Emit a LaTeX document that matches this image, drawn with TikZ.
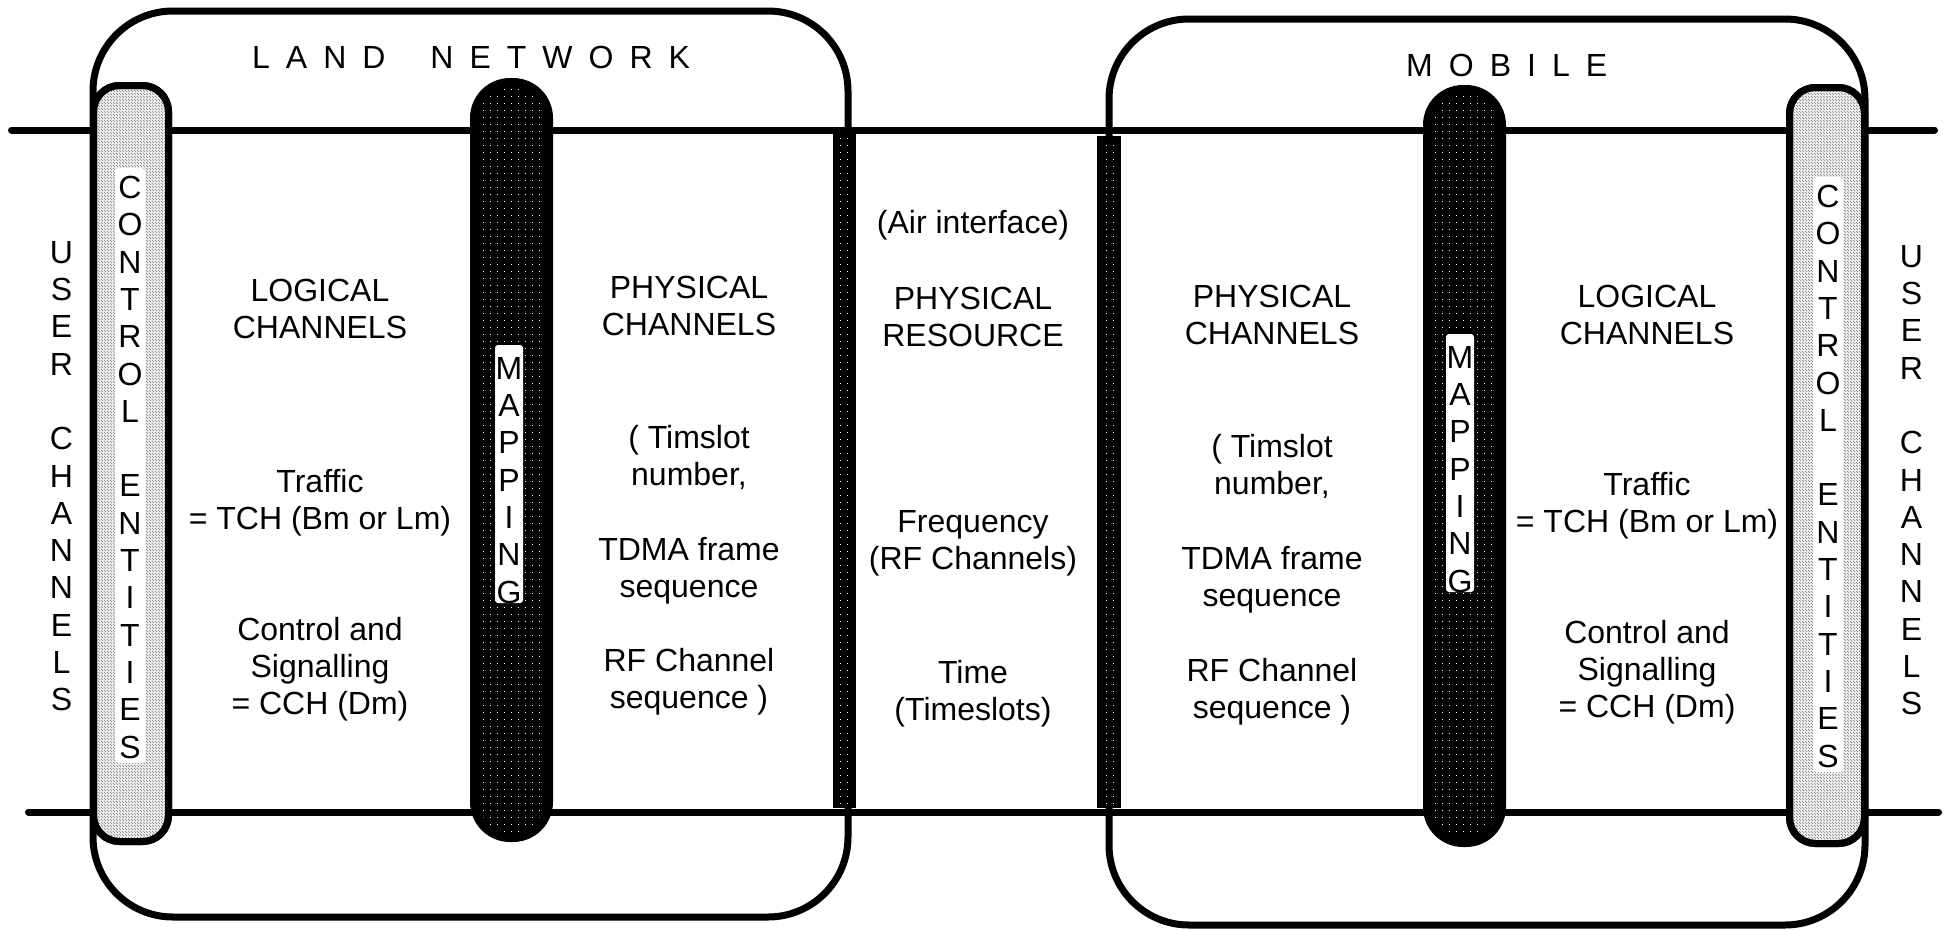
\documentclass[tikz,border=0pt]{standalone}
\usepackage{fontspec}
\setmainfont{Liberation Sans}
\usetikzlibrary{patterns.meta}
\tikzdeclarepattern{
  name=wdots,
  type=uncolored,
  bottom left={(-1pt,-1pt)},
  top right={(1pt,1pt)},
  tile size={(7pt,7pt)},
  code={\fill (-0.45pt,-0.45pt) rectangle (0.45pt,0.45pt);}
}
\tikzdeclarepattern{
  name=gtex,
  type=uncolored,
  bottom left={(-1pt,-1pt)},
  top right={(4pt,4pt)},
  tile size={(3pt,3pt)},
  code={\fill (0pt,0pt) rectangle (0.9pt,0.9pt); \fill (1.5pt,1.5pt) rectangle (2.4pt,2.4pt);}
}
\begin{document}
\begin{tikzpicture}[x=1pt,y=-1pt,
  netbox/.style={draw, line width=7pt, rounded corners=80pt},
  rail/.style={line width=7pt, line cap=round},
  ctrlpillar/.style={draw, line width=7pt, fill=black!8, rounded corners=26pt},
  gtexfill/.style={pattern=gtex, pattern color=black!45},
  mappillar/.style={fill=black, rounded corners=40pt},
  dotfill/.style={pattern=wdots, pattern color=white},
  stripbar/.style={fill=black},
  lblbg/.style={fill=white, rounded corners=3pt},
  txt/.style={font=\fontsize{32pt}{37.3pt}\selectfont, align=center, inner sep=0pt, anchor=north},
  title/.style={font=\fontsize{32pt}{37.3pt}\selectfont\addfontfeatures{LetterSpace=50}, inner sep=0pt, anchor=base west}
]
\useasboundingbox[fill=white] (0,0) rectangle (1946,929);

% network boxes
\draw[netbox] (93,11) rectangle (848,917);
\draw[netbox] (1109,19) rectangle (1865,925);

% rails
\draw[rail] (11.5,130) -- (1934.5,130);
\draw[rail] (28.5,812) -- (1938.5,812);

% air interface strips
\fill[stripbar] (833,130) rectangle (856,808);
\fill[dotfill] (837,134) rectangle (852,804);
\fill[stripbar] (1097,136) rectangle (1121,808);
\fill[dotfill] (1101,140) rectangle (1117,804);

% control entity pillars
\draw[ctrlpillar] (93.5,85.5) rectangle (168.5,841.5);
\fill[gtexfill, rounded corners=22pt] (97,89) rectangle (165,838);
\draw[ctrlpillar, fill=none] (93.5,85.5) rectangle (168.5,841.5);
\draw[ctrlpillar] (1789.5,87.5) rectangle (1864.5,843.5);
\fill[gtexfill, rounded corners=22pt] (1793,91) rectangle (1861,840);
\draw[ctrlpillar, fill=none] (1789.5,87.5) rectangle (1864.5,843.5);

% mapping pillars
\fill[mappillar] (470,78) rectangle (553,842);
\fill[dotfill, rounded corners=32pt] (479,87) rectangle (544,833);
\fill[mappillar] (1423,85) rectangle (1506,847);
\fill[dotfill, rounded corners=32pt] (1432,94) rectangle (1497,838);

% label backgrounds
\fill[lblbg] (115,168) rectangle (145,763);
\fill[lblbg] (1813,177) rectangle (1843,772);
\fill[lblbg] (495,345) rectangle (523,603);
\fill[lblbg] (1446,334) rectangle (1474,592);

% titles
\node[title] (land) at (252,68) {LAND \hspace{20pt}NETWORK};
\node[title] (mobile) at (1406,76) {MOBILE};

% vertical labels
\node[txt] (userL) at (61.5,241) {U\\S\\E\\R\\~\\C\\H\\A\\N\\N\\E\\L\\S};
\node[txt] (userR) at (1911.5,245) {U\\S\\E\\R\\~\\C\\H\\A\\N\\N\\E\\L\\S};
\node[txt] (ctrlL) at (130,176) {C\\O\\N\\T\\R\\O\\L\\~\\E\\N\\T\\I\\T\\I\\E\\S};
\node[txt] (ctrlR) at (1828,185) {C\\O\\N\\T\\R\\O\\L\\~\\E\\N\\T\\I\\T\\I\\E\\S};
\node[txt] (mapL) at (509,357) {M\\A\\P\\P\\I\\N\\G};
\node[txt] (mapR) at (1460,346) {M\\A\\P\\P\\I\\N\\G};

% land network: logical channels
\node[txt] (logL) at (320,279) {LOGICAL\\CHANNELS};
\node[txt] (trafL) at (320,469) {Traffic\\= TCH (Bm or Lm)};
\node[txt] (cchL) at (320,617) {Control and\\Signalling\\= CCH (Dm)};

% land network: physical channels
\node[txt] (phyL) at (689,276) {PHYSICAL\\CHANNELS};
\node[txt] (tsL) at (689,425) {( Timslot\\number,};
\node[txt] (tdmaL) at (689,537) {TDMA frame\\sequence};
\node[txt] (rfL) at (689,648) {RF Channel\\sequence )};

% air interface
\node[txt] (air) at (973,210) {(Air interface)};
\node[txt] (res) at (973,287) {PHYSICAL\\RESOURCE};
\node[txt] (freq) at (973,510) {Frequency\\(RF Channels)};
\node[txt] (time) at (973,660) {Time\\(Timeslots)};

% mobile: physical channels
\node[txt] (phyR) at (1272,285) {PHYSICAL\\CHANNELS};
\node[txt] (tsR) at (1272,434) {( Timslot\\number,};
\node[txt] (tdmaR) at (1272,546) {TDMA frame\\sequence};
\node[txt] (rfR) at (1272,658) {RF Channel\\sequence )};

% mobile: logical channels
\node[txt] (logR) at (1647,285) {LOGICAL\\CHANNELS};
\node[txt] (trafR) at (1647,472) {Traffic\\= TCH (Bm or Lm)};
\node[txt] (cchR) at (1647,620) {Control and\\Signalling\\= CCH (Dm)};
\end{tikzpicture}
\end{document}
